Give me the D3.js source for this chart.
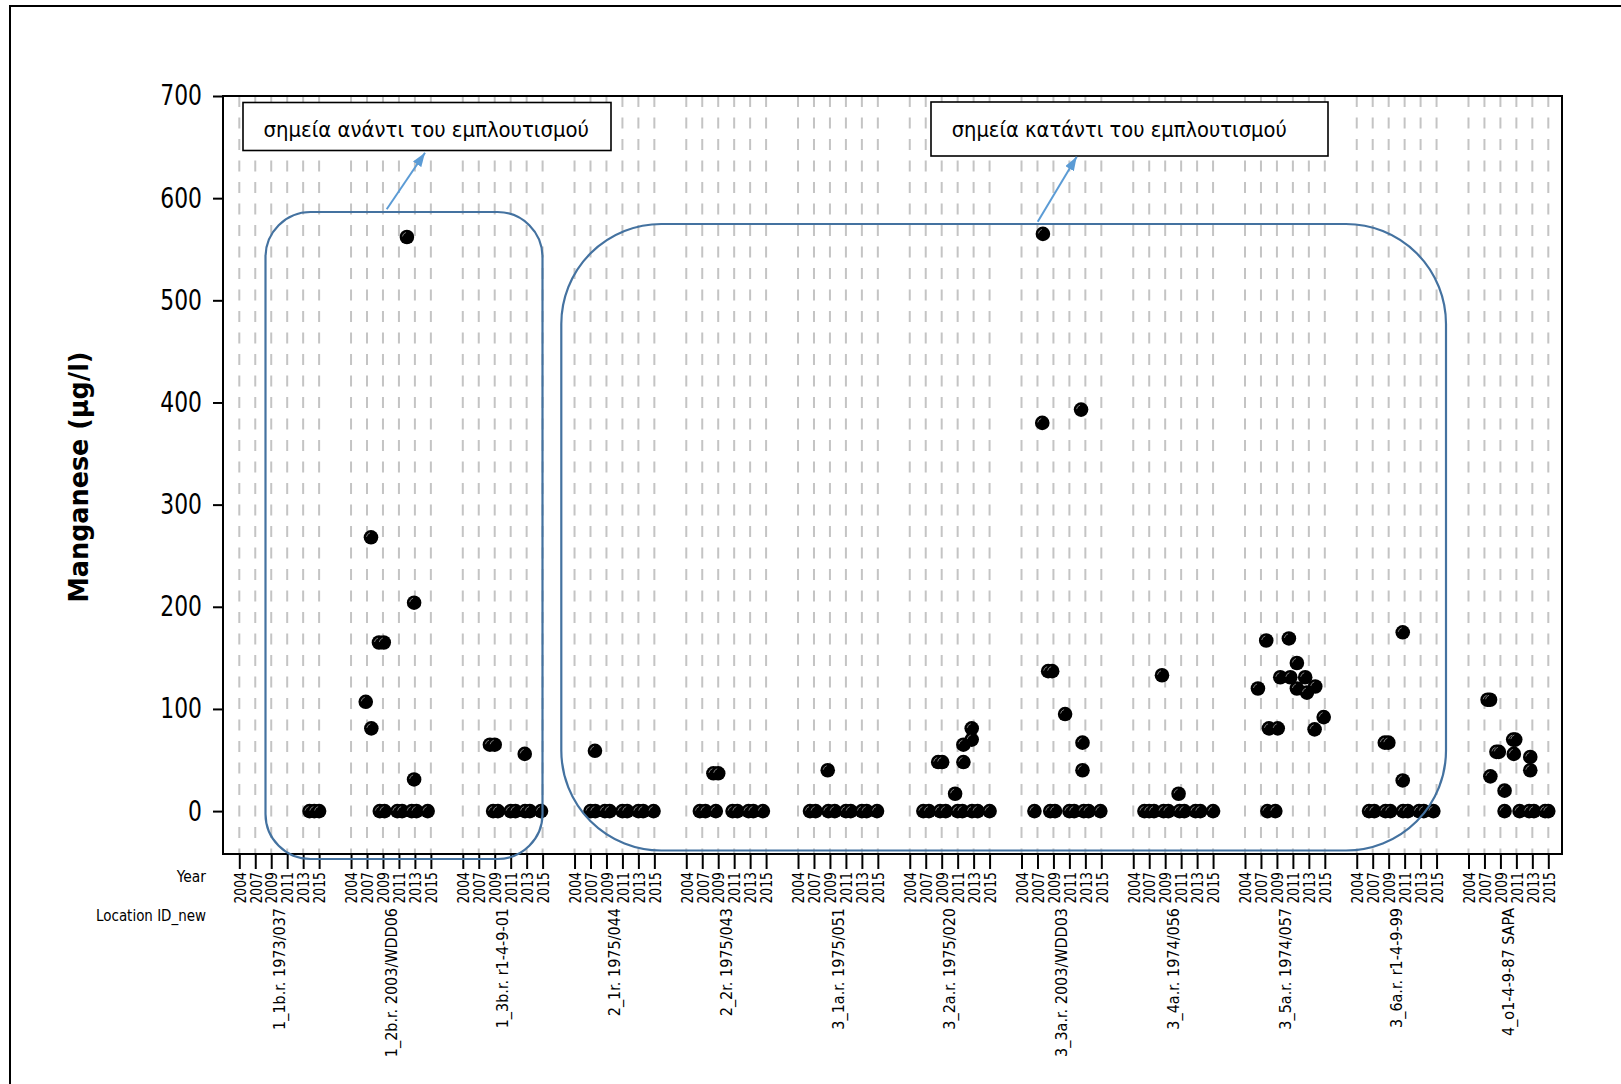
<!DOCTYPE html>
<html>
<head>
<meta charset="utf-8">
<script src="https://cdn.jsdelivr.net/npm/d3@7"></script>
<style>
  body { margin: 0; background: #fff; }
  svg { display: block; }
  text { font-family: 'DejaVu Sans', Verdana, sans-serif; fill: #000; }
</style>
</head>
<body>
<div id="chart"></div>
<script>
// x categories inside each location group
const years = [2004, 2007, 2009, 2011, 2013, 2015]

const locations = [
  '1_1b.r. 1973/037', '1_2b.r. 2003/WDD06', '1_3b.r. r1-4-9-01',
  '2_1r. 1975/044', '2_2r. 1975/043', '3_1a.r. 1975/051',
  '3_2a.r. 1975/020', '3_3a.r. 2003/WDD03', '3_4a.r. 1974/056',
  '3_5a.r. 1974/057', '3_6a.r. r1-4-9-99', '4_o1-4-9-87 SAPA'
]

const yTicks = [0, 100, 200, 300, 400, 500, 600, 700]

// [year, manganese µg/l, jitter (fraction of a slot) as Minitab placed it]
const mn_1_1b = [[2013,0,0.4],[2015,0,-0.3],[2015,0,0]]
const mn_1_2b = [[2007,107,-0.08],[2007,81,0.27],[2007,268,0.25],[2009,165,-0.25],[2009,165,0.05],[2011,562,0.5],
  [2013,204,-0.05],[2013,31,-0.05],[2009,0,-0.2],[2009,0,0.1],[2011,0,-0.1],[2011,0,0.2],[2013,0,-0.2],[2013,0,0.1],[2015,0,-0.2]]
const mn_1_3b = [[2009,65,-0.3],[2009,65,0],[2013,56,-0.12],[2009,0,-0.1],[2009,0,0.2],[2011,0,0],[2011,0,0.3],
  [2013,0,-0.1],[2013,0,0.2],[2015,0,-0.1]]
const mn_2_1r = [[2007,59,0.28],[2007,0,0],[2007,0,0.3],[2009,0,-0.1],[2009,0,0.2],[2011,0,0],[2011,0,0.3],
  [2013,0,0],[2013,0,0.3],[2015,0,-0.05]]
const mn_2_2r = [[2009,37,-0.3],[2009,37,0],[2007,0,-0.15],[2007,0,0.2],[2009,0,-0.15],[2011,0,-0.1],[2011,0,0.2],
  [2013,0,-0.1],[2013,0,0.2],[2015,0,-0.2]]
const mn_3_1a = [[2009,40,-0.14],[2007,0,-0.25],[2007,0,0.1],[2009,0,-0.1],[2009,0,0.3],[2011,0,0],[2011,0,0.3],
  [2013,0,0],[2013,0,0.3],[2015,0,-0.05]]
const mn_3_2a = [[2009,48,-0.22],[2009,48,0.03],[2011,17,-0.16],[2011,48,0.36],[2011,65,0.36],[2013,70,-0.12],[2013,81,-0.12],
  [2007,0,-0.15],[2007,0,0.2],[2009,0,-0.1],[2009,0,0.25],[2011,0,0],[2011,0,0.3],[2013,0,-0.1],[2013,0,0.25],[2015,0,0]]
const mn_3_3a = [[2007,0,-0.19],[2007,565,0.34],[2007,380,0.3],[2009,137,-0.33],[2009,137,-0.08],[2011,95,-0.27],
  [2013,393,-0.27],[2013,67,-0.18],[2013,40,-0.18],[2009,0,-0.2],[2009,0,0.1],[2011,0,0],[2011,0,0.3],
  [2013,0,-0.1],[2013,0,0.2],[2015,0,-0.06]]
const mn_3_4a = [[2009,133,-0.2],[2011,17,-0.16],[2007,0,-0.3],[2007,0,0],[2007,0,0.3],[2009,0,-0.1],[2009,0,0.2],
  [2011,0,-0.1],[2011,0,0.2],[2013,0,-0.1],[2013,0,0.2],[2015,0,0]]
const mn_3_5a = [[2007,120,-0.19],[2007,167,0.33],[2007,81,0.5],[2009,81,0.05],[2009,131,0.21],[2011,131,-0.16],
  [2011,169,-0.25],[2011,145,0.25],[2011,120,0.25],[2013,131,-0.23],[2013,116,-0.12],[2013,122,0.4],[2013,80,0.36],
  [2015,92,-0.07],[2007,0,0.4],[2009,0,-0.1]]
const mn_3_6a = [[2009,67,-0.24],[2009,67,-0.02],[2011,175,-0.12],[2011,30,-0.12],[2007,0,-0.23],[2007,0,0.1],
  [2009,0,-0.2],[2009,0,0.1],[2011,0,-0.1],[2011,0,0.2],[2013,0,-0.1],[2013,0,0.2],[2015,0,-0.2]]
const mn_4_o1 = [[2007,109,0.2],[2007,109,0.35],[2007,34,0.37],[2009,58,-0.25],[2009,58,-0.1],[2009,20,0.26],
  [2009,0,0.26],[2011,70,-0.2],[2011,70,-0.07],[2011,56,-0.16],[2013,53,-0.13],[2013,40,-0.13],
  [2011,0,0.2],[2013,0,-0.2],[2013,0,0.1],[2015,0,-0.2],[2015,0,0]]

const series = [mn_1_1b, mn_1_2b, mn_1_3b, mn_2_1r, mn_2_2r, mn_3_1a,
  mn_3_2a, mn_3_3a, mn_3_4a, mn_3_5a, mn_3_6a, mn_4_o1]

const noteTexts = ['σημεία ανάντι του εμπλουτισμού', 'σημεία κατάντι του εμπλουτισμού']

class IndividualValuePlot {
  box = { w: 1621, h: 1084 }
  plot = { left: 223, right: 1562, top: 96, bottom: 854 }
  // callout layout, pixels
  notes = [
    { box: [243, 102.5, 368, 48], textX: 263.5, textLen: 325.5,
      region: [265.5, 212, 277, 647, 45], arrow: [386.7, 209.3, 425, 152.7] },
    { box: [931, 102, 397, 54], textX: 951.7, textLen: 335,
      region: [561.3, 224, 884.7, 626.5, 100], arrow: [1037.7, 221.7, 1076.7, 156.7] }
  ]

  constructor(config = {}) {
    Object.assign(this, config)
  }

  render(element) {
    this.drawSvg(element).initScales()
      .drawGrid().drawPoints().drawFrame().drawAxes().drawLabels().drawNotes()
  }

  // narrow the DejaVu glyphs towards the Tahoma look of the original
  squeeze(sel, k) {
    sel.each(function () {
      const w = this.getComputedTextLength()
      d3.select(this).attr('textLength', w * k).attr('lengthAdjust', 'spacingAndGlyphs')
    })
  }

  drawSvg(element) {
    this.svg = d3.select(element).append('svg')
      .attr('width', this.box.w).attr('height', this.box.h)
    this.svg.append('rect')
      .attr('x', 10).attr('y', 6).attr('width', 1700).attr('height', 1200)
      .attr('fill', '#fff').attr('stroke', '#000').attr('stroke-width', 2)
    return this
  }

  initScales() {
    this.keys = []
    locations.forEach((loc, i) => {
      years.forEach(yr => this.keys.push(`${i}|${yr}`))
      if (i < locations.length - 1) this.keys.push(`gap${i}`)
    })
    this.tickKeys = this.keys.filter(k => !k.startsWith('gap'))
    this.x = d3.scalePoint().domain(this.keys).range([239.3, 1548.3])
    this.y = d3.scaleLinear().domain([-42, 700]).range([this.plot.bottom, this.plot.top])
    return this
  }

  drawGrid() {
    this.svg.append('g').attr('class', 'grid')
      .selectAll('line')
      .data(this.tickKeys)
      .join('line')
      .attr('x1', d => this.x(d)).attr('x2', d => this.x(d))
      .attr('y1', this.plot.top).attr('y2', this.plot.bottom)
      .attr('stroke', '#c4c4c4').attr('stroke-width', 2)
      .attr('stroke-dasharray', '11,10.5')
    return this
  }

  drawPoints() {
    const pts = []
    series.forEach((s, i) => s.forEach(([yr, v, jit]) => pts.push({ i, yr, v, jit })))
    const g = this.svg.append('g').attr('class', 'points')
    const cx = d => this.x(`${d.i}|${d.yr}`) + d.jit * this.x.step()
    g.selectAll('circle')
      .data(pts)
      .join('circle')
      .attr('cx', cx).attr('cy', d => this.y(d.v))
      .attr('r', 7.3).attr('fill', '#000')
    // little highlight Minitab puts on its solid symbols
    g.selectAll('path')
      .data(pts)
      .join('path')
      .attr('d', d => `M${cx(d) - 4.5},${this.y(d.v) - 0.5} q0.5,-3 3.5,-4`)
      .attr('fill', 'none').attr('stroke', '#888').attr('stroke-width', 0.9)
    return this
  }

  drawFrame() {
    const p = this.plot
    this.svg.append('rect')
      .attr('x', p.left).attr('y', p.top)
      .attr('width', p.right - p.left).attr('height', p.bottom - p.top)
      .attr('fill', 'none').attr('stroke', '#000').attr('stroke-width', 2)
    return this
  }

  drawAxes() {
    const yAxis = this.svg.append('g')
      .attr('transform', `translate(${this.plot.left},0)`)
      .call(d3.axisLeft(this.y).tickValues(yTicks).tickSize(10).tickPadding(11))
    yAxis.select('.domain').remove()
    yAxis.selectAll('line').attr('stroke-width', 2)
    yAxis.selectAll('text')
      .attr('font-size', 28).attr('font-family', null)
    this.squeeze(yAxis.selectAll('text'), 0.78)

    const xAxis = this.svg.append('g')
      .attr('transform', `translate(0,${this.plot.bottom})`)
      .call(d3.axisBottom(this.x).tickValues(this.tickKeys).tickSize(15)
        .tickFormat(k => k.split('|')[1]))
    xAxis.select('.domain').remove()
    xAxis.selectAll('line').attr('stroke-width', 2)
    xAxis.selectAll('text')
      .attr('font-size', 16).attr('font-family', null)
      .attr('x', -18).attr('y', 0).attr('dy', '0.36em')
      .attr('transform', 'rotate(-90)')
      .style('text-anchor', 'end')
      .attr('textLength', 31.5).attr('lengthAdjust', 'spacingAndGlyphs')
    return this
  }

  drawLabels() {
    const locLabels = this.svg.append('g').attr('class', 'locations')
      .selectAll('text')
      .data(locations)
      .join('text')
      .attr('transform', (d, i) => {
        const cx = (this.x(`${i}|${years[0]}`) + this.x(`${i}|${years[years.length - 1]}`)) / 2
        return `translate(${cx},908) rotate(-90)`
      })
      .attr('dy', '0.36em')
      .attr('text-anchor', 'end')
      .attr('font-size', 16)
      .text(d => d)
    this.squeeze(locLabels, 0.9)

    this.svg.append('text')
      .attr('x', 206).attr('y', 882).attr('text-anchor', 'end')
      .attr('font-size', 16).attr('textLength', 29.3).attr('lengthAdjust', 'spacingAndGlyphs')
      .text('Year')
    this.svg.append('text')
      .attr('x', 206).attr('y', 921).attr('text-anchor', 'end')
      .attr('font-size', 16).attr('textLength', 110).attr('lengthAdjust', 'spacingAndGlyphs')
      .text('Location ID_new')

    const title = this.svg.append('text')
      .attr('transform', `translate(79,${(this.plot.top + this.plot.bottom) / 2 + 2}) rotate(-90)`)
      .attr('dy', '0.35em').attr('text-anchor', 'middle')
      .attr('font-size', 26).attr('font-weight', 'bold')
      .text('Manganese (μg/l)')
    title.attr('textLength', 251).attr('lengthAdjust', 'spacingAndGlyphs')
    return this
  }

  drawNotes() {
    const defs = this.svg.append('defs')
    defs.append('marker')
      .attr('id', 'head').attr('markerUnits', 'userSpaceOnUse')
      .attr('viewBox', '0 0 14 10').attr('refX', 14).attr('refY', 5)
      .attr('markerWidth', 14).attr('markerHeight', 10).attr('orient', 'auto')
      .append('path').attr('d', 'M0,0 L14,5 L0,10 Z').attr('fill', '#5b9bd5')

    this.notes.forEach((n, i) => {
      const [rx, ry, rw, rh, rr] = n.region
      this.svg.append('rect')
        .attr('x', rx).attr('y', ry).attr('width', rw).attr('height', rh)
        .attr('rx', rr).attr('ry', rr)
        .attr('fill', 'none').attr('stroke', '#4472a0').attr('stroke-width', 2.2)

      const [bx, by, bw, bh] = n.box
      this.svg.append('rect')
        .attr('x', bx).attr('y', by).attr('width', bw).attr('height', bh)
        .attr('fill', '#fff').attr('stroke', '#000').attr('stroke-width', 1.6)
      this.svg.append('text')
        .attr('x', n.textX).attr('y', 137)
        .attr('font-size', 22)
        .attr('textLength', n.textLen).attr('lengthAdjust', 'spacingAndGlyphs')
        .text(noteTexts[i])

      const [x1, y1, x2, y2] = n.arrow
      this.svg.append('line')
        .attr('x1', x1).attr('y1', y1).attr('x2', x2).attr('y2', y2)
        .attr('stroke', '#5b9bd5').attr('stroke-width', 2)
        .attr('marker-end', 'url(#head)')
    })
    return this
  }
}

new IndividualValuePlot().render(document.getElementById('chart'))
</script>
</body>
</html>
